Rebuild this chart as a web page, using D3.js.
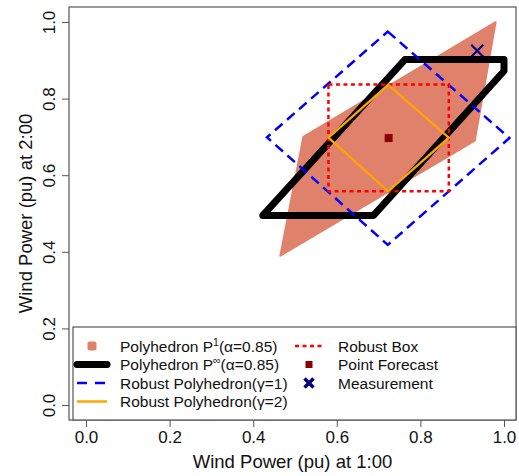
<!DOCTYPE html>
<html><head><meta charset="utf-8">
<script src="https://cdn.jsdelivr.net/npm/d3@7"></script>
<style>body{margin:0;background:#fff}svg{display:block;font-family:"Liberation Sans",Arial,sans-serif}</style>
</head><body><svg id="c" width="519" height="476"></svg>
<script>
// ---- data ----
const xTicks = [0, 0.2, 0.4, 0.6, 0.8, 1.0];
const yTicks = [0, 0.2, 0.4, 0.6, 0.8, 1.0];
const polyP1 = [[0.98, 1.00], [0.93, 0.69], [0.465, 0.39], [0.52, 0.70]];
const polyPinf = [[0.763, 0.902], [1.0, 0.902], [1.0, 0.872], [0.688, 0.495], [0.423, 0.495]];
const robustPoly1 = [[0.722, 0.975], [1.013, 0.697], [0.722, 0.418], [0.433, 0.699]];
const robustPoly2 = [[0.723, 0.836], [0.868, 0.698], [0.723, 0.558], [0.580, 0.698]];
const robustBox = [[0.580, 0.837], [0.868, 0.837], [0.868, 0.558], [0.580, 0.558]];
const pointForecast = [0.724, 0.697];
const measurement = [0.936, 0.925];
const xTitle = "Wind Power (pu) at 1:00";
const yTitle = "Wind Power (pu) at 2:00";

const svg = d3.select("#c");
const x = d3.scaleLinear().domain([0, 1]).range([86, 504]);
const y = d3.scaleLinear().domain([0, 1]).range([405, 22]);
const frame = {l: 69, r: 516, t: 7, b: 420};

const line = d3.line().x(d => x(d[0])).y(d => y(d[1])).curve(d3.curveLinearClosed);

// P1 polygon
svg.append("path").attr("d", line(polyP1)).attr("fill", "#E0826B")
  .attr("stroke", "#E0826B").attr("stroke-width", 2).attr("stroke-linejoin", "round");
// P-inf
svg.append("path").attr("d", line(polyPinf)).attr("fill", "none")
  .attr("stroke", "#000").attr("stroke-width", 7).attr("stroke-linejoin", "round");
// Robust polyhedron gamma=1
svg.append("path").attr("d", line(robustPoly1)).attr("fill", "none")
  .attr("stroke", "#0000FF").attr("stroke-width", 2.5).attr("stroke-dasharray", "10,6");
// Robust box
svg.append("path").attr("d", line(robustBox)).attr("fill", "none")
  .attr("stroke", "#FF0000").attr("stroke-width", 2.5).attr("stroke-dasharray", "4,3.5");
// Robust polyhedron gamma=2
svg.append("path").attr("d", line(robustPoly2)).attr("fill", "none")
  .attr("stroke", "#FFA500").attr("stroke-width", 2.3);
// point forecast
svg.append("rect").attr("x", x(pointForecast[0]) - 4).attr("y", y(pointForecast[1]) - 4)
  .attr("width", 8).attr("height", 8).attr("fill", "#8B0000");
// measurement
const mx = x(measurement[0]), my = y(measurement[1]);
svg.append("path").attr("d", `M${mx-6},${my-6}L${mx+6},${my+6}M${mx-6},${my+6}L${mx+6},${my-6}`)
  .attr("stroke", "#000080").attr("stroke-width", 2.2);

// frame
svg.append("rect").attr("x", frame.l).attr("y", frame.t).attr("width", frame.r - frame.l)
  .attr("height", frame.b - frame.t).attr("fill", "none").attr("stroke", "#555").attr("stroke-width", 1.2);

// axes
const xa = svg.append("g").attr("transform", `translate(0,${frame.b})`)
  .call(d3.axisBottom(x).tickValues(xTicks).tickFormat(d3.format(".1f")).tickSize(7).tickPadding(4));
xa.select(".domain").remove();
xa.selectAll("line").attr("stroke", "#555");
xa.selectAll("text").attr("font-size", 17).attr("fill", "#111").attr("font-family", "Liberation Sans, Arial, sans-serif");

const ya = svg.append("g").attr("transform", `translate(${frame.l},0)`)
  .call(d3.axisLeft(y).tickValues(yTicks).tickFormat(d3.format(".1f")).tickSize(7));
ya.select(".domain").remove();
ya.selectAll("line").attr("stroke", "#555");
ya.selectAll("text").attr("font-size", 17).attr("fill", "#111").attr("font-family", "Liberation Sans, Arial, sans-serif")
  .attr("transform", "rotate(-90)").attr("x", 0).attr("y", -14).attr("dy", 0).attr("text-anchor", "middle");

svg.append("text").attr("x", (frame.l + frame.r) / 2).attr("y", 468).attr("text-anchor", "middle")
  .attr("font-size", 18.5).attr("fill", "#111").text(xTitle);
svg.append("text").attr("transform", `translate(32,${(frame.t + frame.b) / 2}) rotate(-90)`)
  .attr("text-anchor", "middle").attr("font-size", 18.5).attr("fill", "#111").text(yTitle);

// legend
const lg = svg.append("g");
lg.append("rect").attr("x", 73).attr("y", 327).attr("width", frame.r - 73).attr("height", frame.b - 327)
  .attr("fill", "#fff").attr("stroke", "#555").attr("stroke-width", 1.2);
const rows = [346, 364.5, 383, 401.5];
const c1 = {a: 77, b: 107, m: 92, t: 120};
const c2 = {a: 295, b: 322, m: 309, t: 338};
function ltext(cx, cy, parts) {
  const t = lg.append("text").attr("x", cx).attr("y", cy + 5.5).attr("font-size", 15.5).attr("fill", "#111");
  parts.forEach(p => {
    const s = t.append("tspan").text(p.s);
    if (p.sup) s.attr("font-size", 10.5).attr("dy", -6);
    if (p.after) s.attr("dy", 6);
  });
}
// row1 col1
lg.append("rect").attr("x", c1.m - 4.5).attr("y", rows[0] - 4.5).attr("width", 9).attr("height", 9)
  .attr("rx", 2).attr("fill", "#E0826B");
ltext(c1.t, rows[0], [{s: "Polyhedron P"}, {s: "1", sup: true}, {s: "(α=0.85)", after: true}]);
lg.append("line").attr("x1", c1.a).attr("x2", c1.b).attr("y1", rows[1]).attr("y2", rows[1])
  .attr("stroke", "#000").attr("stroke-width", 7).attr("stroke-linecap", "round");
ltext(c1.t, rows[1], [{s: "Polyhedron P"}, {s: "∞", sup: true}, {s: "(α=0.85)", after: true}]);
lg.append("line").attr("x1", c1.a).attr("x2", c1.b).attr("y1", rows[2]).attr("y2", rows[2])
  .attr("stroke", "#0000FF").attr("stroke-width", 2.5).attr("stroke-dasharray", "10,8");
ltext(c1.t, rows[2], [{s: "Robust Polyhedron(γ=1)"}]);
lg.append("line").attr("x1", c1.a).attr("x2", c1.b).attr("y1", rows[3]).attr("y2", rows[3])
  .attr("stroke", "#FFA500").attr("stroke-width", 2.5);
ltext(c1.t, rows[3], [{s: "Robust Polyhedron(γ=2)"}]);
// col2
lg.append("line").attr("x1", c2.a).attr("x2", c2.b).attr("y1", rows[0]).attr("y2", rows[0])
  .attr("stroke", "#FF0000").attr("stroke-width", 2.5).attr("stroke-dasharray", "4,3.5");
ltext(c2.t, rows[0], [{s: "Robust Box"}]);
lg.append("rect").attr("x", c2.m - 3.5).attr("y", rows[1] - 3.5).attr("width", 7).attr("height", 7)
  .attr("fill", "#8B0000");
ltext(c2.t, rows[1], [{s: "Point Forecast"}]);
lg.append("path").attr("d", `M${c2.m-4.5},${rows[2]-4.5}L${c2.m+4.5},${rows[2]+4.5}M${c2.m-4.5},${rows[2]+4.5}L${c2.m+4.5},${rows[2]-4.5}`)
  .attr("stroke", "#000080").attr("stroke-width", 3.5);
ltext(c2.t, rows[2], [{s: "Measurement"}]);
</script></body></html>
